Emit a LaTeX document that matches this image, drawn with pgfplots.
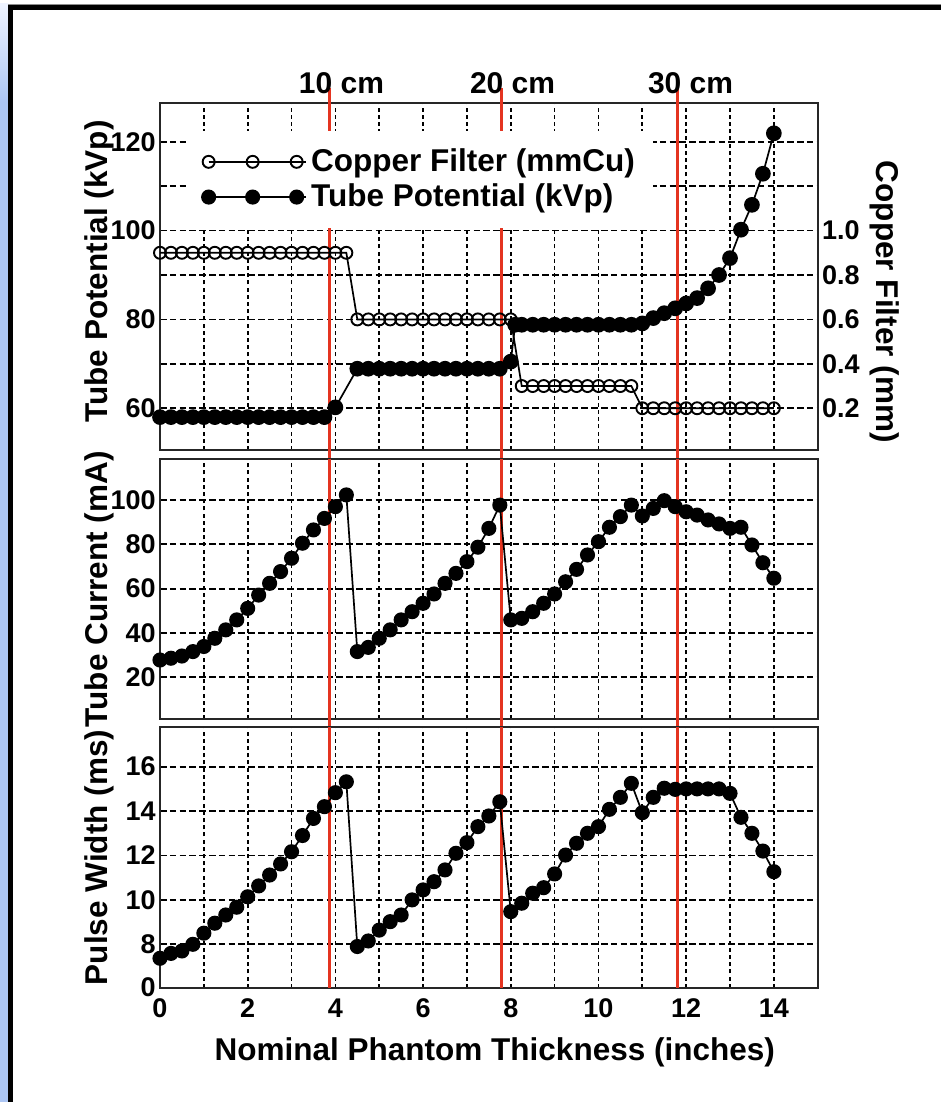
\documentclass[border=0pt]{standalone}
\usepackage{fontspec}
\setmainfont{Liberation Sans}
\usepackage{pgfplots}
\pgfplotsset{compat=1.18}
\definecolor{refred}{RGB}{228,52,32}
\definecolor{stripblue}{RGB}{172,198,244}
\definecolor{striplight}{RGB}{238,243,255}
\newcommand{\tickfont}{\bfseries\fontsize{13.5}{16}\selectfont}
\newcommand{\labfont}{\bfseries\fontsize{15.75}{18}\selectfont}
\newcommand{\cmfont}{\bfseries\fontsize{15}{18}\selectfont}
\tikzset{
  filled/.style={black, line width=0.85pt, mark=*, mark size=3.35pt, mark options={solid, fill=black}},
  open/.style={black, line width=0.85pt, mark=o, mark size=3.0pt, mark options={solid, fill=white, line width=0.95pt}},
  redline/.style={refred, line width=1.4pt},
}
\pgfplotsset{
  panel/.style={
    scale only axis, width=328.85pt,
    xmin=0, xmax=15, xtick={0,...,14},
    axis line style={line width=1.1pt, black!85},
    major tick length=0pt,
    xmajorgrids, ymajorgrids,
    x grid style={black, line width=0.85pt, dash pattern=on 2pt off 1.6pt},
    y grid style={black, line width=0.85pt, dash pattern=on 3.3pt off 1.6pt},
    ticklabel style={font=\tickfont},
    yticklabel style={inner xsep=2pt},
    xticklabel style={inner ysep=5.5pt},
    /pgf/number format/assume math mode=true,
    every axis y label/.style={at={(axis description cs:-0.0927,0.5)}, rotate=90, anchor=center, font=\labfont},
    clip=false,
  },
  nolabelx/.style={xticklabels={,,,,,,,,,,,,,,,}},
}
\begin{document}
\begin{tikzpicture}
\path[use as bounding box] (0,0) rectangle (470.5pt,551pt);
% frame of the reference picture
\fill[stripblue] (0,0) rectangle (4.15pt,500pt);
\shade[top color=striplight, bottom color=stripblue] (0,500pt) rectangle (4.15pt,549pt);
\fill[black!45] (4pt,548.5pt) rectangle (470.5pt,549pt);
\fill[black] (4pt,546pt) rectangle (470.5pt,548.5pt);
\fill[black] (4.15pt,0) rectangle (6.65pt,548.5pt);

% ---------------- top panel: tube potential ----------------
\begin{axis}[panel, nolabelx, height=173.65pt, at={(80pt,326pt)}, anchor=south west,
  ymin=50.6, ymax=128.8, ytick={60,70,...,120}, yticklabels={60,,80,,100,,120},
  ylabel={Tube Potential (kVp)},
  every axis y label/.append style={at={(axis description cs:-0.0927,0.514)}}]
\draw[redline] (axis cs:3.87,48.51) -- (axis cs:3.87,132.14);
\draw[redline] (axis cs:7.78,48.51) -- (axis cs:7.78,132.14);
\draw[redline] (axis cs:11.81,48.51) -- (axis cs:11.81,132.14);
\node[font=\cmfont, anchor=base] at (axis cs:4.14,130.95) {10 cm};
\node[font=\cmfont, anchor=base] at (axis cs:8.04,130.95) {20 cm};
\node[font=\cmfont, anchor=base] at (axis cs:12.1,130.95) {30 cm};
\addplot[filled, mark size=3.5pt] coordinates {
(0,58) (0.25,58) (0.5,58) (0.75,58) (1,58) (1.25,58) (1.5,58) (1.75,58)
(2,58) (2.25,58) (2.5,58) (2.75,58) (3,58) (3.25,58) (3.5,58) (3.75,58)
(4,60.2)
(4.5,68.9) (4.75,68.9) (5,68.9) (5.25,68.9) (5.5,68.9) (5.75,68.9) (6,68.9)
(6.25,68.9) (6.5,68.9) (6.75,68.9) (7,68.9) (7.25,68.9) (7.5,68.9) (7.75,68.9)
(8,70.5) (8.1,78.8)
(8.25,78.8) (8.5,78.8) (8.75,78.8) (9,78.8) (9.25,78.8) (9.5,78.8) (9.75,78.8)
(10,78.8) (10.25,78.8) (10.5,78.8) (10.75,78.8)
(11,79.1) (11.25,80.3) (11.5,81.4) (11.75,82.5) (12,83.6) (12.25,84.8)
(12.5,87.0) (12.75,90.0) (13,93.8) (13.25,100.2) (13.5,105.8) (13.75,112.8) (14,121.9)
};
\end{axis}

% ---------------- right axis: copper filter ----------------
\begin{axis}[scale only axis, width=328.85pt, height=173.65pt, at={(80pt,326pt)}, anchor=south west,
  xmin=0, xmax=15, ymin=0.012, ymax=1.576,
  axis x line=none, axis y line*=right,
  axis line style={line width=1.1pt, black!85},
  major tick length=0pt,
  ytick={0.2,0.4,0.6,0.8,1.0}, yticklabels={0.2,0.4,0.6,0.8,1.0},
  ticklabel style={font=\tickfont},
  yticklabel style={inner xsep=2pt},
  ylabel={Copper Filter (mm)},
  every axis y label/.style={at={(axis description cs:1.1023,0.427)}, rotate=-90, anchor=center, font=\labfont},
  legend style={draw=none, fill=white, at={(axis description cs:0.041,0.921)}, anchor=north west,
    inner xsep=7.3pt, inner ysep=8.2pt, font=\labfont, row sep=2.7pt,
    nodes={inner sep=2pt, inner ysep=1pt}},
  legend cell align=left,
  legend image code/.code={\path (0pt,0pt) -- (48.8pt,0pt);\draw[mark repeat=1,#1] plot coordinates {(0pt,0pt) (22pt,0pt) (44pt,0pt)};},
  clip=false]
\addplot[open] coordinates {
(0,0.9) (0.25,0.9) (0.5,0.9) (0.75,0.9) (1,0.9) (1.25,0.9) (1.5,0.9) (1.75,0.9) (2,0.9)
(2.25,0.9) (2.5,0.9) (2.75,0.9) (3,0.9) (3.25,0.9) (3.5,0.9) (3.75,0.9) (4,0.9) (4.25,0.9)
(4.5,0.6) (4.75,0.6) (5,0.6) (5.25,0.6) (5.5,0.6) (5.75,0.6) (6,0.6) (6.25,0.6)
(6.5,0.6) (6.75,0.6) (7,0.6) (7.25,0.6) (7.5,0.6) (7.75,0.6) (8,0.6)
(8.25,0.3) (8.5,0.3) (8.75,0.3) (9,0.3) (9.25,0.3) (9.5,0.3) (9.75,0.3) (10,0.3)
(10.25,0.3) (10.5,0.3) (10.75,0.3)
(11,0.2) (11.25,0.2) (11.5,0.2) (11.75,0.2) (12,0.2) (12.25,0.2) (12.5,0.2)
(12.75,0.2) (13,0.2) (13.25,0.2) (13.5,0.2) (13.75,0.2) (14,0.2)
};
\addlegendentry{Copper Filter (mmCu)}
\addlegendimage{filled}
\addlegendentry{Tube Potential (kVp)}
\end{axis}

% ---------------- middle panel: tube current ----------------
\begin{axis}[panel, nolabelx, height=130pt, at={(80pt,191.35pt)}, anchor=south west,
  ymin=1.05, ymax=118.37, ytick={20,40,60,80,100}, yticklabels={20,40,60,80,100},
  ylabel={Tube Current (mA)}]
\draw[redline] (axis cs:3.87,-2.57) -- (axis cs:3.87,118.37);
\draw[redline] (axis cs:7.78,-2.57) -- (axis cs:7.78,118.37);
\draw[redline] (axis cs:11.81,-2.57) -- (axis cs:11.81,118.37);
\addplot[filled] coordinates {
(0,27.8) (0.25,28.6) (0.5,29.6) (0.75,31.6) (1,33.9) (1.25,37.6) (1.5,41.4) (1.75,45.9)
(2,51.1) (2.25,57.1) (2.5,62.4) (2.75,67.7) (3,73.7) (3.25,80.5) (3.5,86.5) (3.75,91.7)
(4,97) (4.25,102.3)
(4.5,31.6) (4.75,33.5) (5,37.6) (5.25,41.4) (5.5,45.9) (5.75,49.6) (6,53.4) (6.25,57.6)
(6.5,62.4) (6.75,66.9) (7,72.2) (7.25,78.7) (7.5,87.2) (7.75,97.7)
(8,45.9) (8.25,46.6) (8.5,49.6) (8.75,53.4) (9,57.6) (9.25,63.1) (9.5,68.7) (9.75,75.2)
(10,81.2) (10.25,87.7) (10.5,92.5) (10.75,97.7) (11,92.8) (11.25,96.2) (11.5,99.7)
(11.75,97) (12,94.7) (12.25,93.2) (12.5,91) (12.75,89.2) (13,87.2) (13.25,87.7)
(13.5,79.7) (13.75,71.7) (14,64.7)
};
\end{axis}

% ---------------- bottom panel: pulse width ----------------
\begin{axis}[panel, height=130.2pt, at={(80pt,57.15pt)}, anchor=south west,
  ymin=6.045, ymax=17.775, ytick={6.045,8,10,12,14,16}, yticklabels={0,8,10,12,14,16},
  xticklabels={0,,2,,4,,6,,8,,10,,12,,14},
  ylabel={Pulse Width (ms)},
  xlabel={Nominal Phantom Thickness (inches)},
  every axis x label/.style={at={(axis description cs:0.509,-0.166)}, anchor=north, font=\labfont}]
\draw[redline] (axis cs:3.87,6.045) -- (axis cs:3.87,17.775);
\draw[redline] (axis cs:7.78,6.045) -- (axis cs:7.78,17.775);
\draw[redline] (axis cs:11.81,6.045) -- (axis cs:11.81,17.775);
\addplot[filled] coordinates {
(0,7.37) (0.25,7.59) (0.5,7.7) (0.75,8.0) (1,8.5) (1.25,8.95) (1.5,9.32) (1.75,9.67)
(2,10.14) (2.25,10.63) (2.5,11.12) (2.75,11.62) (3,12.17) (3.25,12.9) (3.5,13.67)
(3.75,14.2) (4,14.83) (4.25,15.32)
(4.5,7.9) (4.75,8.15) (5,8.64) (5.25,9.02) (5.5,9.32) (5.75,10.0) (6,10.45) (6.25,10.82)
(6.5,11.35) (6.75,12.1) (7,12.58) (7.25,13.3) (7.5,13.78) (7.75,14.42)
(8,9.47) (8.25,9.85) (8.5,10.3) (8.75,10.55) (9,11.17) (9.25,12.02) (9.5,12.55)
(9.75,13.0) (10,13.3) (10.25,14.08) (10.5,14.62) (10.75,15.25) (11,13.93) (11.25,14.62)
(11.5,15.03) (11.75,14.98) (12,15.0) (12.25,15.0) (12.5,15.0) (12.75,15.0) (13,14.8)
(13.25,13.72) (13.5,13.0) (13.75,12.2) (14,11.27)
};
\end{axis}
\end{tikzpicture}
\end{document}
